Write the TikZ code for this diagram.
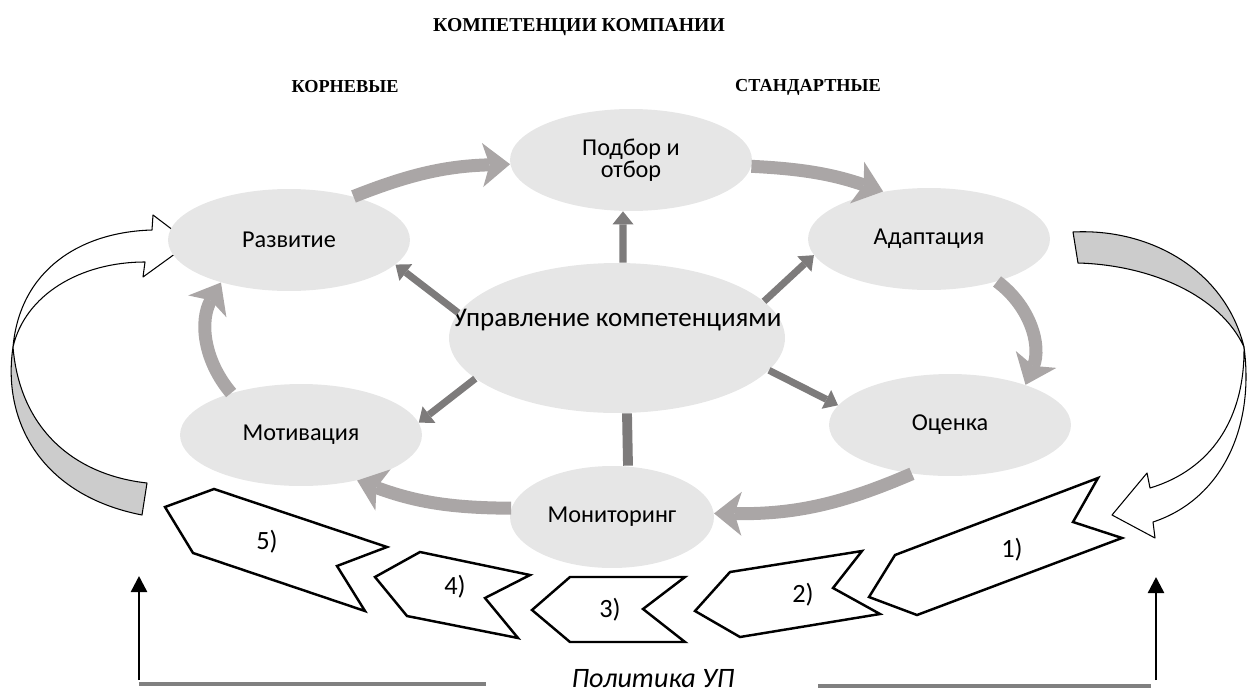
\documentclass[tikz,border=0pt]{standalone}
\usepackage{fontspec}
\setmainfont{Carlito}
\newfontfamily\headfont{Liberation Serif}
\usetikzlibrary{shapes.geometric, arrows.meta, positioning}
\definecolor{ellgray}{RGB}{230,230,230}
\definecolor{ringgray}{RGB}{170,166,166}
\definecolor{spokegray}{RGB}{125,123,123}
\definecolor{backgray}{RGB}{204,204,204}
\definecolor{linegray}{RGB}{128,128,128}

\begin{document}
\begin{tikzpicture}[x=0.02cm, y=-0.02cm,
  stage/.style={ellipse, fill=ellgray, minimum width=4.84cm, minimum height=2.04cm, inner sep=0pt, align=center, font=\fontsize{13.8}{12.5}\selectfont},
  ring/.style={line width=7.4pt, draw=ringgray, -{Stealth[length=0.55cm, width=0.88cm, inset=0.14cm, line width=0pt]}},
  spoke/.style={line width=4pt, draw=spokegray, -{Triangle[length=0.26cm, width=0.42cm, line width=0pt]}},
  bigarrow/.style={draw=black, line width=0.6pt, line join=round},
  chev/.style={draw=black, fill=white, line width=1.4pt, line join=miter},
  numlab/.style={font=\fontsize{15}{17}\selectfont},
  head/.style={font=\headfont\bfseries\fontsize{10.4}{12}\selectfont},
  uparrow/.style={line width=1.4pt, -{Triangle[length=0.32cm, width=0.32cm]}},
  policyline/.style={draw=linegray, line width=1.8pt}
]
  \useasboundingbox (0,0) rectangle (1247,697);

  \node[head, font=\headfont\bfseries\fontsize{11.2}{13}\selectfont] (title) at (579,27) {КОМПЕТЕНЦИИ КОМПАНИИ};
  \node[head] (korn) at (345,87) {КОРНЕВЫЕ};
  \node[head] (stand) at (808,87) {СТАНДАРТНЫЕ};

  \draw[bigarrow, fill=backgray] (13,347) .. controls (2,420) and (40,495) .. (142,515)
    -- (147,483) .. controls (75,475) and (20,430) .. cycle;
  \draw[bigarrow, fill=white] (13,347) .. controls (20,270) and (80,232) .. (152,230)
    -- (153,215) -- (190,243) -- (143,277) -- (145,262)
    .. controls (80,262) and (25,295) .. cycle;

  \draw[bigarrow, fill=backgray] (1073,232) .. controls (1150,228) and (1225,270) .. (1244,347)
    .. controls (1220,295) and (1150,265) .. (1078,263) -- cycle;
  \draw[bigarrow, fill=white] (1244,347) .. controls (1255,430) and (1220,500) .. (1153,522)
    -- (1155,538) -- (1112,515) -- (1147,473) -- (1150,488)
    .. controls (1210,470) and (1245,420) .. cycle;

  \node[stage] (podbor) at (631,160) {Подбор и\\отбор};
  \node[stage] (razv) at (289,240) {Развитие};
  \node[stage] (adapt) at (929,239) {Адаптация};
  \node[stage] (ocenka) at (950,425) {Оценка};
  \node[stage] (motiv) at (301,435) {Мотивация};
  \node[stage, minimum width=4.08cm] (monit) at (612,517) {Мониторинг};
  \node[stage, minimum width=6.72cm, minimum height=3cm, font=\fontsize{15.4}{18}\selectfont] (upr) at (617,338)
    {\raisebox{0.8cm}{\makebox[0pt]{Управление компетенциями}}};

  \draw[ring] (razv.34) to[bend left=10] (podbor.182);
  \draw[ring] (podbor.357) to[bend left=8] (adapt.134);
  \draw[ring] (adapt.328) to[bend left=38] (ocenka.28);
  \draw[ring] (ocenka.232) to[bend left=12] (monit.2);
  \draw[ring] (monit.175) to[bend left=10] (motiv.321);
  \draw[ring] (motiv.149) to[bend left=35] (razv.212);

  \draw[spoke] ([xshift=0.12cm]upr.north) -- ([xshift=-0.16cm]podbor.south);
  \draw[spoke] (upr.171) -- (razv.347);
  \draw[spoke] (upr.14) -- (adapt.188);
  \draw[spoke] (upr.348) -- (ocenka.170);
  \draw[spoke] (upr.196) -- (motiv.6);
  \draw[spokegray, line width=5.6pt] ([xshift=0.2cm]upr.south) -- ([xshift=0.32cm]monit.north);

  \draw[chev] (165,507) -- (214,489) -- (387,547) -- (337,566) -- (365,611) -- (193,553) -- cycle;
  \node[numlab] (n5) at (267,542) {5)};
  \draw[chev] (375,577) -- (420,552) -- (530,575) -- (485,598) -- (518,638) -- (407,616) -- cycle;
  \node[numlab] (n4) at (455,587) {4)};
  \draw[chev] (532,610) -- (570,577) -- (685,577) -- (643,609) -- (685,642) -- (570,642) -- cycle;
  \node[numlab] (n3) at (610,610) {3)};
  \draw[chev] (695,611) -- (730,572) -- (862,551) -- (833,588) -- (880,614) -- (740,637) -- cycle;
  \node[numlab] (n2) at (803,595) {2)};
  \draw[chev] (869,597) -- (895,555) -- (1098,478) -- (1073,522) -- (1122,538) -- (917,615) -- cycle;
  \node[numlab] (n1) at (1012,550) {1)};

  \coordinate (lbase) at (139,680);
  \coordinate (ltip) at (139,576);
  \coordinate (rbase) at (1156,680);
  \coordinate (rtip) at (1156,577);
  \draw[uparrow] (lbase) -- (ltip);
  \draw[uparrow] (rbase) -- (rtip);

  \node[font=\itshape\fontsize{16}{18}\selectfont] (policy) at (653,679) {Политика УП};
  \coordinate (pl1) at (139,684);
  \coordinate (pl2) at (486,684);
  \coordinate (pr1) at (818,686);
  \coordinate (pr2) at (1151,686);
  \draw[policyline] (pl1) -- (pl2);
  \draw[policyline] (pr1) -- (pr2);
\end{tikzpicture}
\end{document}
